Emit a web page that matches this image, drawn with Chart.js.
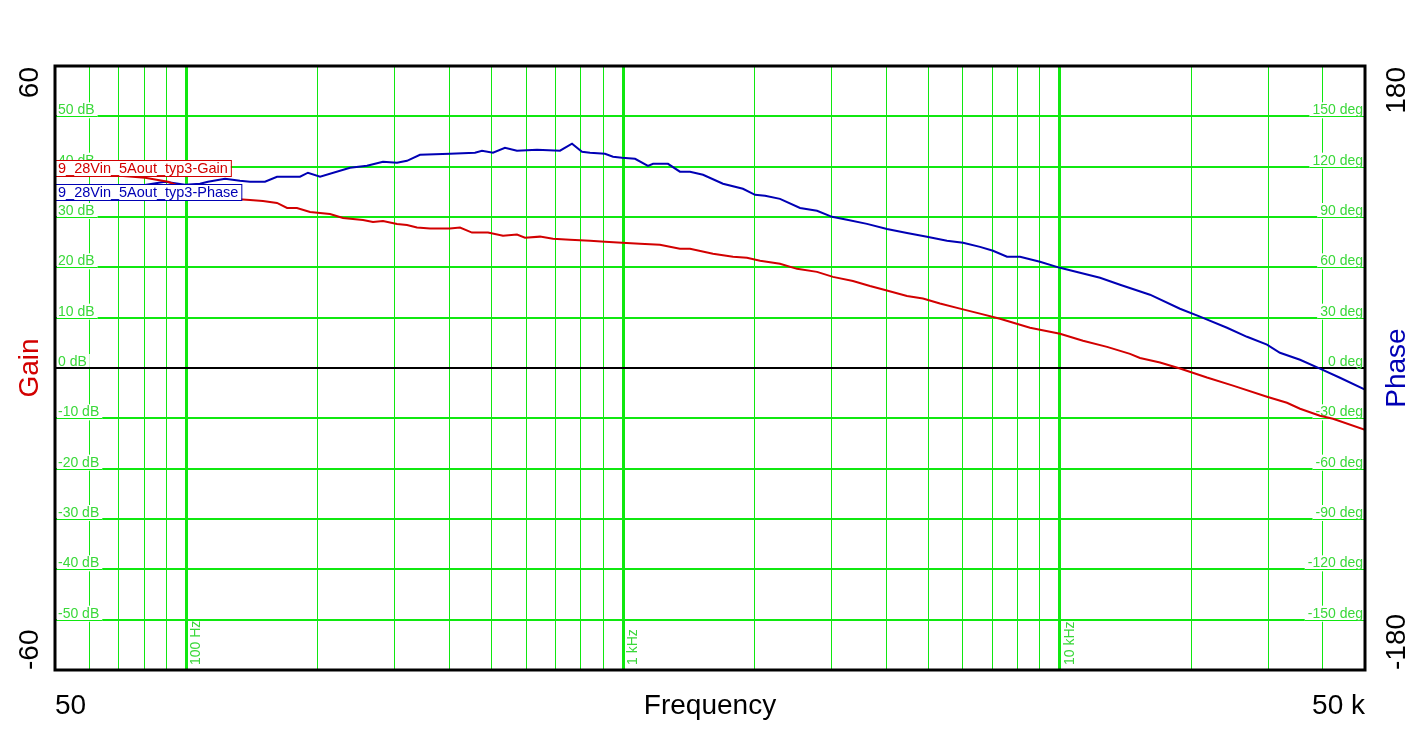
<!DOCTYPE html>
<html>
<head>
<meta charset="utf-8">
<script src="https://cdn.jsdelivr.net/npm/chart.js@4.4.1/dist/chart.umd.min.js"></script>
<style>
  html, body { margin: 0; padding: 0; background: #fff; }
  #wrap { width: 1420px; height: 737px; }
</style>
</head>
<body>
<div id="wrap"><canvas id="bode" width="1420" height="737"></canvas></div>
<script>
// Loop gain (Hz / dB)
const gainFreq = [50, 57, 63.4, 70.4, 80.4, 90.7, 101.9, 116.2, 129.2, 139.8, 149.7, 161.2, 170, 179.1, 191.9,
    213.2, 228.3, 253.7, 267.4, 281.9, 303.5, 319.9, 337.2, 361.2, 401.4, 423.1, 450.7, 490.4, 530.8, 571.4,
    596.1, 645.1, 690.9, 755.7, 839.9, 908.8, 994, 1093, 1214, 1349, 1423, 1606, 1785, 1921, 2059,
    2287, 2502, 2780, 3024, 3360, 3676, 3979, 4468, 4861, 5316, 5909, 6566, 7296, 8548, 10012,
    11301, 12831, 14482, 15265, 16963, 18847, 21731, 24929, 29819, 33130, 35498, 39430, 42228, 50000];
const gainDb = [39.0, 38.6, 38.4, 38.2, 37.8, 37.0, 35.4, 34.2, 33.6, 33.4, 33.2, 32.8, 31.8, 31.8, 31.0,
    30.6, 29.8, 29.4, 29.0, 29.2, 28.6, 28.4, 27.9, 27.7, 27.7, 27.9, 26.9, 26.9, 26.3, 26.5,
    25.9, 26.1, 25.7, 25.5, 25.3, 25.1, 24.9, 24.7, 24.5, 23.7, 23.7, 22.7, 22.1, 21.9, 21.3,
    20.7, 19.7, 19.1, 18.1, 17.3, 16.3, 15.5, 14.3, 13.8, 12.8, 11.8, 10.8, 9.8, 8.0, 6.8,
    5.4, 4.2, 2.8, 2.0, 1.1, -0.1, -1.9, -3.5, -5.7, -6.9, -8.1, -9.5, -10.1, -12.3];

// Loop phase (Hz / deg)
const phaseFreq = [50, 57, 66.8, 78.3, 89.3, 99.3, 107.4, 112, 122.6, 132.6, 139.8, 151.3, 161.2, 182, 189.8,
    202.3, 236.9, 259.1, 281.9, 303.5, 319.9, 342.6, 401.4, 457.9, 475.1, 503.5, 536.4, 571.4, 635, 716.9,
    763.8, 805.1, 839.9, 908.8, 948, 994, 1065, 1140, 1171, 1267, 1349, 1423, 1524, 1693, 1881,
    2005, 2114, 2287, 2542, 2780, 3009, 3257, 3618, 4020, 4468, 4965, 5516, 6005, 6566, 7031,
    7571, 8108, 9008, 10012, 11125, 12363, 13740, 16090, 18847, 20943, 24153, 26837, 29819, 31930, 35498,
    39430, 43818, 50000];
const phaseDeg = [107.4, 107.4, 106.8, 108.6, 111.0, 109.2, 109.8, 111.0, 112.8, 111.6, 111.0, 111.0, 114.0, 114.0, 116.4,
    114.0, 119.3, 120.5, 122.9, 122.3, 123.5, 127.1, 127.7, 128.3, 129.5, 128.3, 131.3, 129.5, 130.1, 129.5,
    133.7, 128.9, 128.3, 127.7, 125.9, 125.3, 124.7, 120.5, 121.7, 121.7, 117.0, 117.0, 115.2, 109.8, 106.8,
    103.2, 102.6, 100.8, 95.4, 93.7, 90.1, 88.3, 85.9, 82.9, 80.5, 78.2, 75.8, 74.6, 72.2, 69.9,
    66.3, 66.3, 63.3, 59.7, 56.8, 53.8, 49.6, 43.7, 35.3, 30.6, 24.0, 18.6, 13.9, 9.1, 4.9,
    -0.4, -5.8, -12.9];

// axes
const freqMin = 50, freqMax = 50000;
const gainMin = -60, gainMax = 60;
const phaseMin = -180, phaseMax = 180;
const gridFreqs = [50, 60, 70, 80, 90, 100, 200, 300, 400, 500, 600, 700, 800, 900,
    1000, 2000, 3000, 4000, 5000, 6000, 7000, 8000, 9000, 10000, 20000, 30000, 40000, 50000];
const decadeFreqs = [100, 1000, 10000];
const decadeLabels = ['100 Hz', '1 kHz', '10 kHz'];
const gainTicks = [50, 40, 30, 20, 10, 0, -10, -20, -30, -40, -50];
const phaseTicks = [150, 120, 90, 60, 30, 0, -30, -60, -90, -120, -150];
const gainName = '9_28Vin_5Aout_typ3-Gain';
const phaseName = '9_28Vin_5Aout_typ3-Phase';

const RED = '#d20000';
const BLUE = '#0000b4';
const GRID = '#10e810';
const GRID_TEXT = '#3ad83a';
const FONT = '"Liberation Sans", Arial, sans-serif';

function rotText(ctx, text, x, y, align) {
    ctx.save();
    ctx.translate(x, y);
    ctx.rotate(-Math.PI / 2);
    ctx.textAlign = align;
    ctx.textBaseline = 'alphabetic';
    ctx.fillText(text, 0, 0);
    ctx.restore();
}

// tick labels sitting on the grid lines, with white backing
const gridLabels = {
    id: 'gridLabels',
    beforeDatasetsDraw(chart) {
        const { ctx, chartArea: a, scales } = chart;
        ctx.save();
        ctx.font = '14px ' + FONT;
        ctx.textBaseline = 'alphabetic';

        gainTicks.forEach(v => {
            const y = scales.y.getPixelForValue(v);
            const t = v + ' dB';
            const w = ctx.measureText(t).width;
            ctx.fillStyle = '#fff';
            ctx.fillRect(a.left + 2, y - 14, w + 4, v === 0 ? 13 : 16);
            if (v !== 0) {
                ctx.fillStyle = GRID;
                ctx.fillRect(a.left + 2, Math.round(y), w + 4, 1);
            }
            ctx.fillStyle = GRID_TEXT;
            ctx.textAlign = 'left';
            ctx.fillText(t, a.left + 3, y - 2);
        });

        phaseTicks.forEach(v => {
            const y = scales.y1.getPixelForValue(v);
            const t = v + ' deg';
            const w = ctx.measureText(t).width;
            ctx.fillStyle = '#fff';
            ctx.fillRect(a.right - w - 5, y - 14, w + 4, v === 0 ? 13 : 16);
            if (v !== 0) {
                ctx.fillStyle = GRID;
                ctx.fillRect(a.right - w - 5, Math.round(y), w + 4, 1);
            }
            ctx.fillStyle = GRID_TEXT;
            ctx.textAlign = 'right';
            ctx.fillText(t, a.right - 2, y - 2);
        });

        ctx.fillStyle = GRID_TEXT;
        decadeFreqs.forEach((f, i) => {
            const x = scales.x.getPixelForValue(f);
            rotText(ctx, decadeLabels[i], x + 14, a.bottom - 5, 'left');
        });
        ctx.restore();
    },
    afterDraw(chart) {
        const { ctx, chartArea: a } = chart;
        ctx.save();

        // series name boxes
        ctx.font = '14.5px ' + FONT;
        ctx.textBaseline = 'alphabetic';
        ctx.textAlign = 'left';
        [[gainName, RED, 160], [phaseName, BLUE, 184]].forEach(([name, col, top]) => {
            const w = ctx.measureText(name).width;
            ctx.fillStyle = '#fff';
            ctx.fillRect(a.left, top, w + 6, 17);
            ctx.strokeStyle = col;
            ctx.lineWidth = 1;
            ctx.strokeRect(a.left + 0.5, top + 0.5, w + 6, 16);
            ctx.fillStyle = col;
            ctx.fillText(name, a.left + 3, top + 13);
        });

        // frame
        ctx.strokeStyle = '#000';
        ctx.lineWidth = 3;
        ctx.strokeRect(a.left, a.top, a.right - a.left, a.bottom - a.top);

        // outer axis text
        ctx.font = '28px ' + FONT;
        ctx.fillStyle = '#000';
        rotText(ctx, String(gainMax), 38, a.top + 1, 'right');
        rotText(ctx, String(gainMin), 38, a.bottom, 'left');
        rotText(ctx, String(phaseMax), 1405, a.top + 1, 'right');
        rotText(ctx, String(phaseMin), 1405, a.bottom, 'left');
        const midY = (a.top + a.bottom) / 2;
        ctx.fillStyle = RED;
        rotText(ctx, 'Gain', 38, midY, 'center');
        ctx.fillStyle = BLUE;
        rotText(ctx, 'Phase', 1405, midY, 'center');

        ctx.fillStyle = '#000';
        ctx.textAlign = 'left';
        ctx.fillText('50', a.left, 714);
        ctx.textAlign = 'right';
        ctx.fillText('50 k', a.right, 714);
        ctx.textAlign = 'center';
        ctx.fillText('Frequency', (a.left + a.right) / 2, 714);
        ctx.restore();
    }
};

new Chart(document.getElementById('bode'), {
    type: 'line',
    data: {
        datasets: [{
            label: gainName,
            data: gainFreq.map((f, i) => ({ x: f, y: gainDb[i] })),
            borderColor: RED,
            borderWidth: 2,
            pointRadius: 0,
            tension: 0,
            yAxisID: 'y'
        }, {
            label: phaseName,
            data: phaseFreq.map((f, i) => ({ x: f, y: phaseDeg[i] })),
            borderColor: BLUE,
            borderWidth: 2,
            pointRadius: 0,
            tension: 0,
            yAxisID: 'y1'
        }]
    },
    options: {
        responsive: false,
        animation: false,
        devicePixelRatio: 1,
        layout: { padding: { left: 55, right: 55, top: 66, bottom: 67 } },
        plugins: {
            legend: { display: false },
            tooltip: { enabled: false }
        },
        scales: {
            x: {
                type: 'logarithmic',
                min: freqMin,
                max: freqMax,
                afterBuildTicks: scale => {
                    scale.ticks = gridFreqs.map(v => ({ value: v }));
                },
                ticks: { display: false },
                border: { display: false },
                grid: {
                    drawTicks: false,
                    color: c => (c.tick.value === freqMin || c.tick.value === freqMax) ? 'rgba(0,0,0,0)' : GRID,
                    lineWidth: c => decadeFreqs.includes(c.tick.value) ? 3 : 1
                }
            },
            y: {
                position: 'left',
                min: gainMin,
                max: gainMax,
                ticks: { display: false, stepSize: 10 },
                border: { display: false },
                grid: {
                    drawTicks: false,
                    color: c => c.tick.value === 0 ? '#000' :
                        (Math.abs(c.tick.value) === 60 ? 'rgba(0,0,0,0)' : GRID),
                    lineWidth: 2
                }
            },
            y1: {
                position: 'right',
                display: false,
                min: phaseMin,
                max: phaseMax
            }
        }
    },
    plugins: [gridLabels]
});
</script>
</body>
</html>
